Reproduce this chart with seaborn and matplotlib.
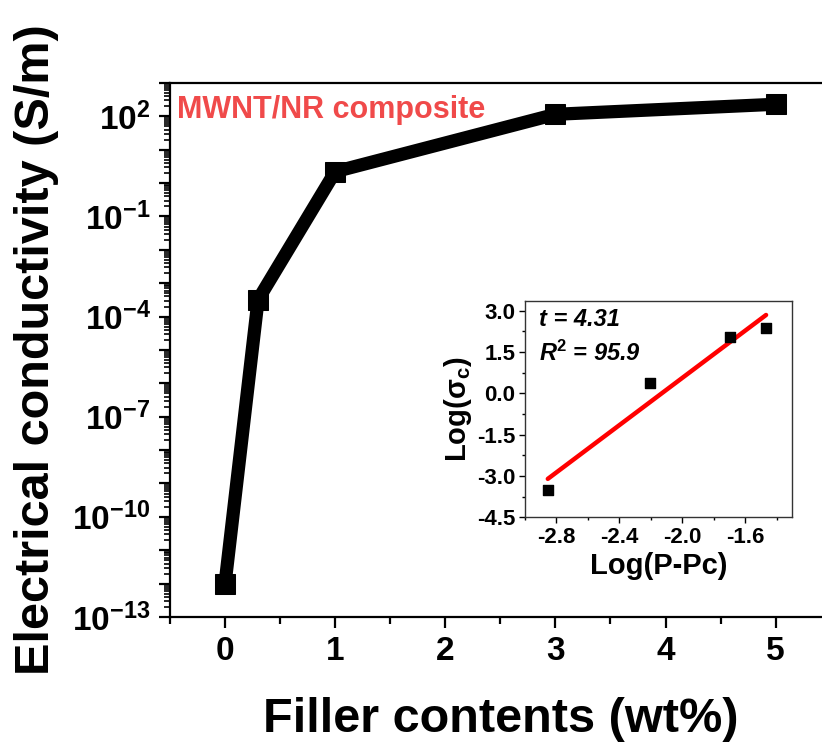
import numpy as np
import pandas as pd
import matplotlib
matplotlib.use("Agg")
import matplotlib.pyplot as plt
import matplotlib.ticker as mticker
import seaborn as sns

# data
filler = [0, 0.3, 1, 3, 5]
conductivity = [1e-12, 3.2e-4, 2.2, 115, 230]

log_p_pc = [-2.855, -2.204, -1.695, -1.467]
log_sigma = [-3.5, 0.37, 2.06, 2.36]

main_df = pd.DataFrame({"filler": filler, "sigma": conductivity})
inset_df = pd.DataFrame({"x": log_p_pc, "y": log_sigma})

sns.set_style("ticks")
plt.rcParams["font.family"] = ["Liberation Sans", "DejaVu Sans"]
plt.rcParams["font.weight"] = "bold"
plt.rcParams["text.color"] = "black"
plt.rcParams["axes.labelcolor"] = "black"
plt.rcParams["xtick.color"] = "black"
plt.rcParams["ytick.color"] = "black"
plt.rcParams["mathtext.fontset"] = "custom"
plt.rcParams["mathtext.rm"] = "Liberation Sans:bold"
plt.rcParams["mathtext.bf"] = "Liberation Sans:bold"
plt.rcParams["mathtext.it"] = "Liberation Sans:italic:bold"

fig = plt.figure(figsize=(8.22, 7.42), dpi=100)
ax = fig.add_axes([0.2068, 0.1685, 0.8038, 0.7197])
ax.set_yscale("log")

sns.lineplot(data=main_df, x="filler", y="sigma", ax=ax, color="black",
             linewidth=9.5, marker="s", markersize=14, markeredgecolor="black")

ax.set_xlim(-0.5, 5.5)
ax.set_ylim(1e-13, 1e3)
ax.set_xticks(range(0, 6))
ax.xaxis.set_minor_locator(mticker.MultipleLocator(0.5))

ax.yaxis.set_major_locator(mticker.FixedLocator([10.0 ** e for e in range(-13, 4)]))
minor_pos = [m * 10.0 ** e for e in range(-13, 3) for m in range(2, 10)]
ax.yaxis.set_minor_locator(mticker.FixedLocator(minor_pos))


def fmt(v, pos):
    e = int(round(np.log10(v)))
    if (e + 13) % 3 == 0 and e <= 2:
        return r"$\mathbf{10^{%d}}$" % e
    return ""


ax.yaxis.set_major_formatter(mticker.FuncFormatter(fmt))
ax.yaxis.set_minor_formatter(mticker.NullFormatter())

for s in ax.spines.values():
    s.set_linewidth(1.6)
    s.set_color("black")
ax.tick_params(axis="both", which="major", direction="out", length=8, width=1.6,
               labelsize=24, colors="black", pad=6)
ax.tick_params(axis="x", which="minor", direction="out", length=5, width=1.6)
ax.tick_params(axis="y", which="minor", direction="out", length=4, width=1.2)
for lab in ax.get_xticklabels() + ax.get_yticklabels():
    lab.set_fontweight("bold")

ax.set_xlabel("Filler contents (wt%)", fontsize=35, fontweight="bold")
ax.set_ylabel("Electrical conductivity (S/m)", fontsize=35, fontweight="bold")
ax.xaxis.set_label_coords(0.5, -0.15)
ax.yaxis.set_label_coords(-0.168, 0.5)

fig.text(0.215, 0.841, "MWNT/NR composite", color="#f04a4a", fontsize=22,
         fontweight="bold", va="baseline", ha="left")

# inset: percolation fit
ins = fig.add_axes([0.6387, 0.3028, 0.3252, 0.2919])
sns.regplot(data=inset_df, x="x", y="y", ax=ins, ci=None, marker="s",
            scatter_kws={"s": 50, "color": "black", "alpha": 1, "zorder": 3},
            line_kws={"color": "#ff0000", "linewidth": 3.2, "zorder": 2})
ins.set_xlim(-3.0, -1.3)
ins.set_ylim(-4.5, 3.36)
ins.set_xticks([-2.8, -2.4, -2.0, -1.6])
ins.set_yticks([3.0, 1.5, 0.0, -1.5, -3.0, -4.5])
ins.xaxis.set_major_formatter(mticker.FormatStrFormatter("%.1f"))
ins.yaxis.set_major_formatter(mticker.FormatStrFormatter("%.1f"))
ins.xaxis.set_minor_locator(mticker.MultipleLocator(0.2))
ins.yaxis.set_minor_locator(mticker.MultipleLocator(0.75))
for s in ins.spines.values():
    s.set_linewidth(1.0)
    s.set_color("#333333")
ins.tick_params(axis="both", which="major", direction="out", length=4, width=1.0,
                labelsize=16, pad=3)
ins.tick_params(axis="both", which="minor", direction="out", length=2.5, width=1.0)
for lab in ins.get_xticklabels() + ins.get_yticklabels():
    lab.set_fontweight("bold")
ins.set_xlabel("Log(P-Pc)", fontsize=21, fontweight="bold", labelpad=3)
ins.set_ylabel(r"Log(σ$_\mathbf{c}$)", fontsize=21, fontweight="bold", labelpad=2)

fig.text(0.656, 0.560, "t = 4.31", fontsize=17, fontweight="bold",
         fontstyle="italic", va="baseline")
fig.text(0.656, 0.513, r"R$^{2}$ = 95.9", fontsize=17, fontweight="bold",
         fontstyle="italic", va="baseline")

fig.savefig("out.png", dpi=100)
